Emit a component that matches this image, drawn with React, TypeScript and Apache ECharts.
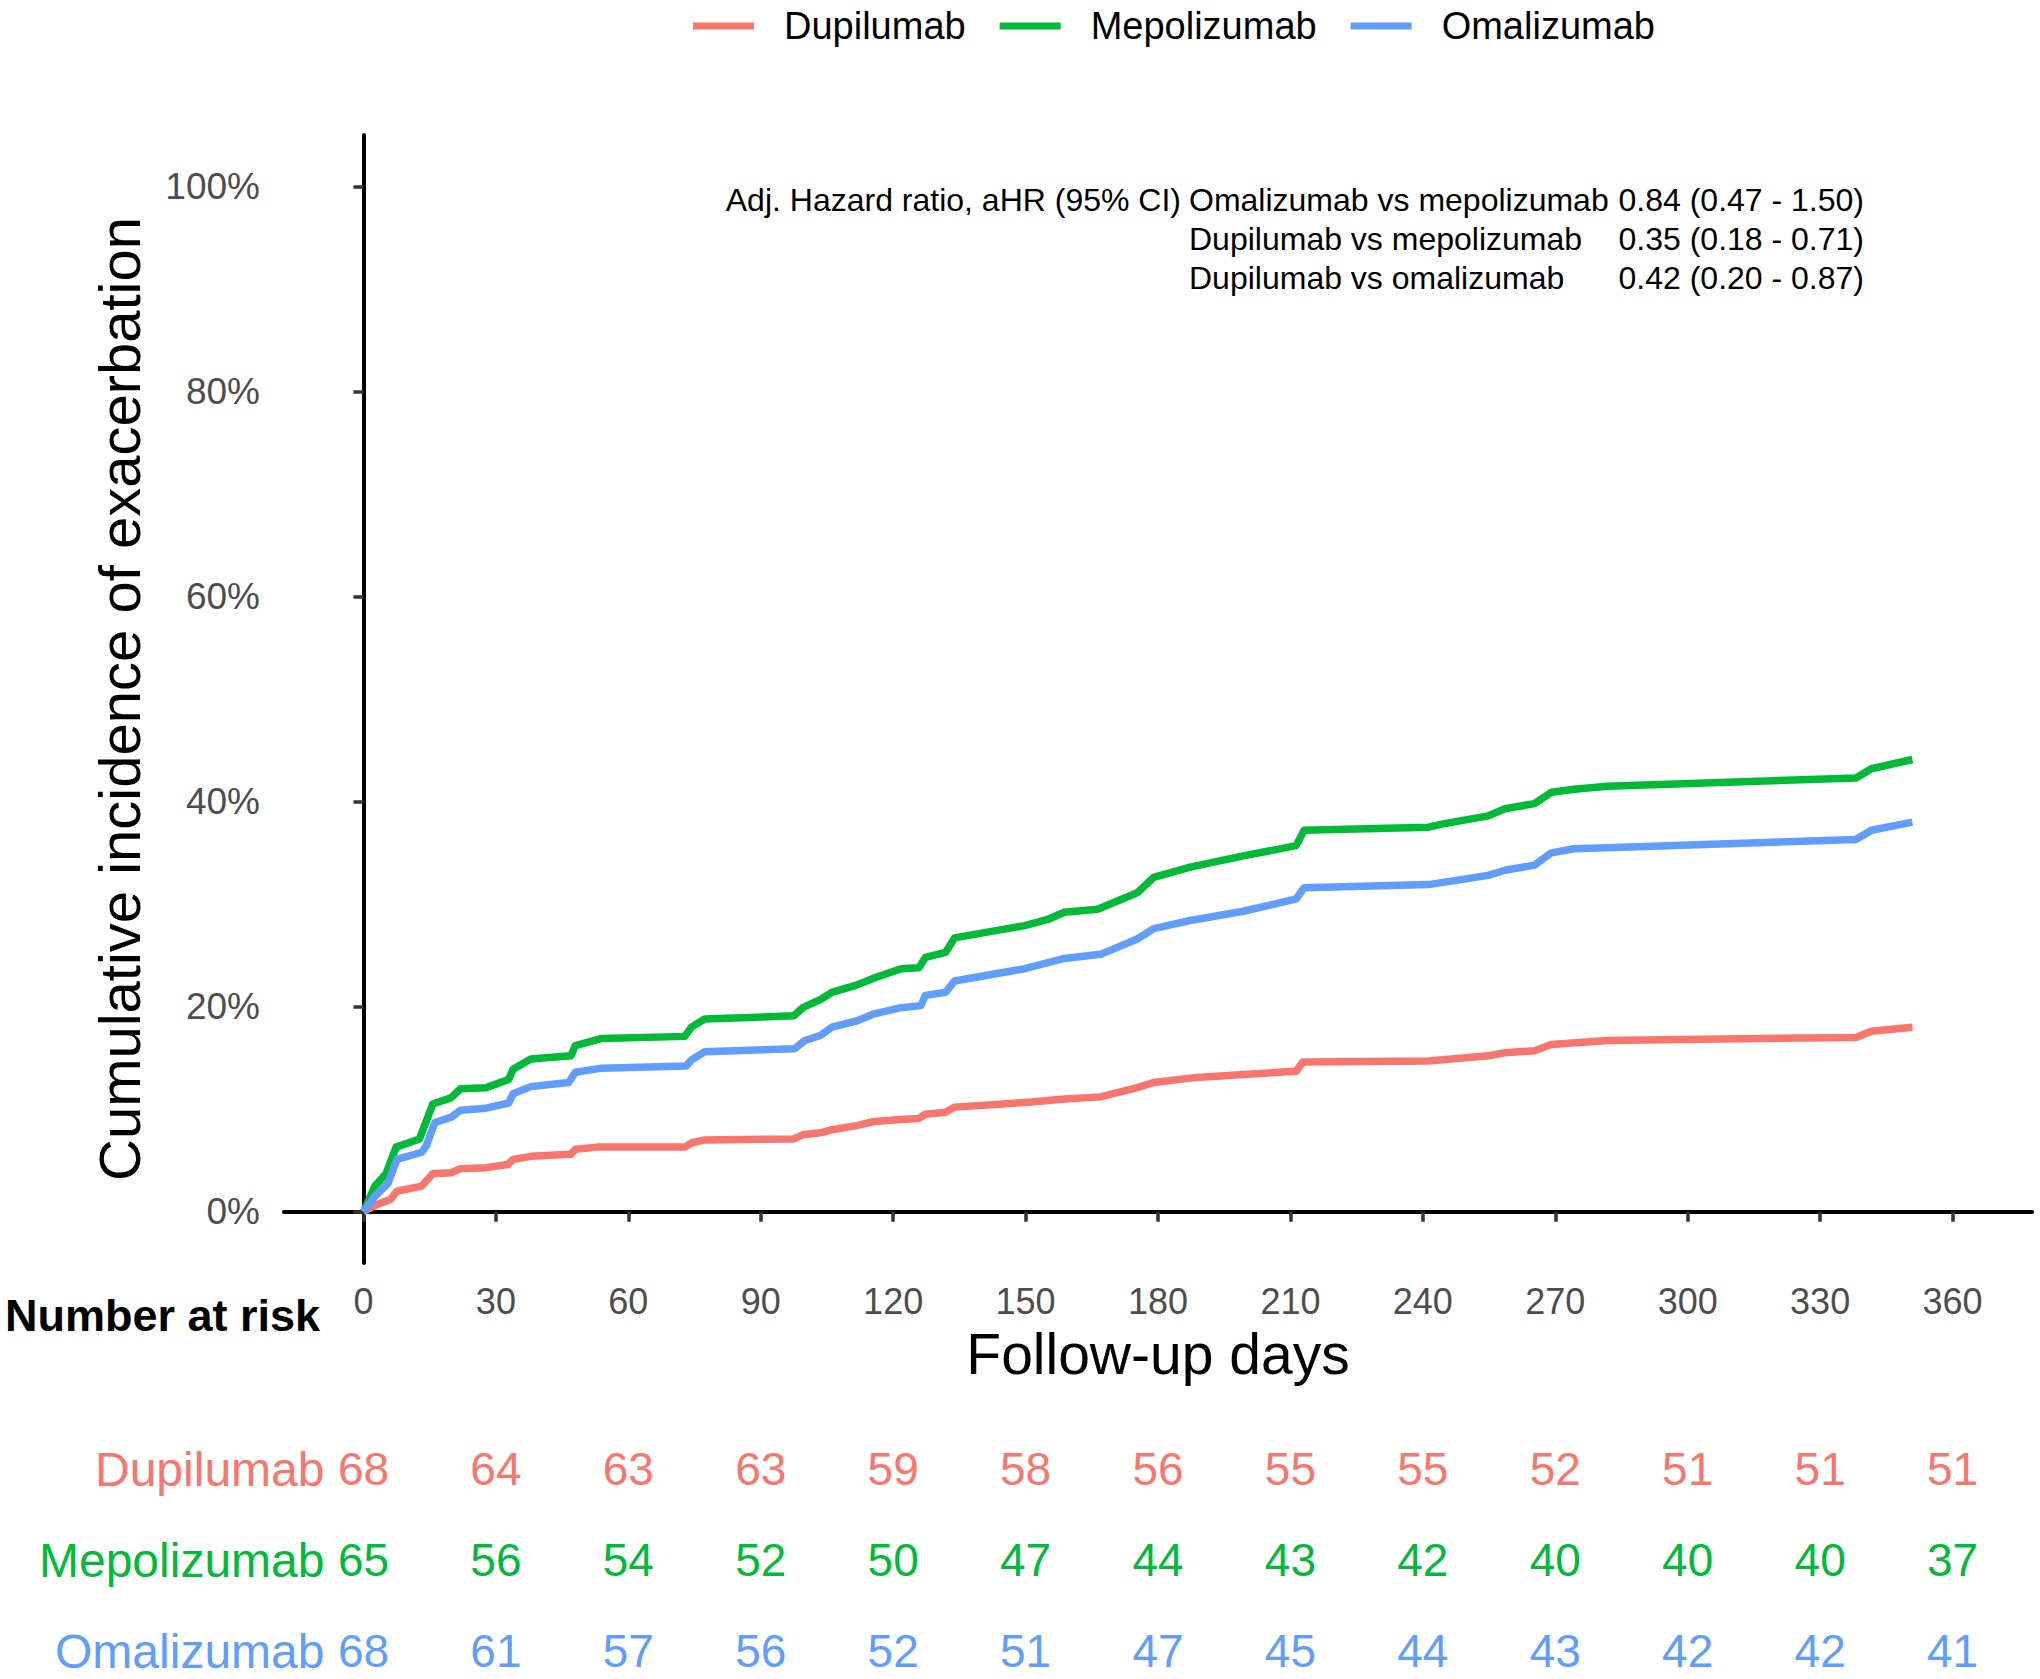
import React, { useEffect, useRef } from "react";
import * as echarts from "echarts";

// ---- Data ----
const DAY_TICKS = [0, 30, 60, 90, 120, 150, 180, 210, 240, 270, 300, 330, 360];
const PCT_TICKS = [0, 20, 40, 60, 80, 100];
const GROUPS = ["Dupilumab", "Mepolizumab", "Omalizumab"];
const COLORS = ["#F8766D", "#00BA38", "#619CFF"];

// [day, cumulative incidence %]
const dupilumabCurve: [number, number][] = [
  [0, 0], [3.1, 0.7], [6.1, 1.2], [7.6, 2], [13.2, 2.5], [15.7, 3.7], [19.8, 3.8], [22, 4.2],
  [27.8, 4.3], [32.7, 4.6], [33.9, 5.1], [37.9, 5.4], [47, 5.6], [48, 6.1], [53, 6.3], [72.8, 6.3],
  [74.3, 6.7], [77.3, 7], [97.5, 7.1], [99.5, 7.5], [103.6, 7.7], [106.1, 8], [111.7, 8.4],
  [115.7, 8.8], [121.8, 9], [125.8, 9.1], [127.3, 9.5], [131.9, 9.7], [133.9, 10.2], [151.3, 10.7],
  [158.8, 11], [167, 11.2], [175.3, 12.1], [179, 12.6], [188.8, 13.1], [211.3, 13.7], [212.8, 14.6],
  [241.3, 14.7], [254.8, 15.2], [258.6, 15.5], [265.3, 15.7], [269.1, 16.3], [281.8, 16.7],
  [338.1, 17], [341.6, 17.6], [350.9, 18],
];
const mepolizumabCurve: [number, number][] = [
  [0, 0], [2.6, 2.5], [5.1, 3.7], [7.4, 6.3], [12.7, 7.1], [15.7, 10.5], [19.8, 11.1], [22, 12],
  [27.8, 12.1], [32.9, 12.9], [33.9, 13.9], [37.9, 14.9], [47, 15.2], [48, 16.2], [54, 16.9],
  [72.8, 17.1], [74.3, 18], [77.3, 18.8], [97.5, 19.1], [99.5, 19.9], [103.6, 20.7], [106.1, 21.4],
  [111.7, 22.1], [115.7, 22.8], [121.8, 23.7], [125.8, 23.8], [127.3, 24.8], [131.9, 25.3],
  [133.9, 26.7], [149.8, 27.9], [155, 28.5], [158.8, 29.2], [166.3, 29.5], [175.3, 31.1],
  [179, 32.6], [187.3, 33.6], [199.3, 34.7], [211.3, 35.7], [213.1, 37.2], [241.3, 37.5],
  [244.3, 37.8], [254.8, 38.6], [258.6, 39.3], [265.3, 39.8], [269.1, 40.9], [274.3, 41.2],
  [281.8, 41.5], [338.1, 42.3], [341.6, 43.2], [350.9, 44.1],
];
const omalizumabCurve: [number, number][] = [
  [0, 0], [2.6, 1.5], [5.6, 2.8], [7.6, 5.1], [13.2, 5.8], [14.2, 6.4], [16.2, 8.7], [19.8, 9.2],
  [22, 9.9], [27.8, 10.1], [32.9, 10.6], [33.9, 11.5], [37.9, 12.2], [46.5, 12.6], [48, 13.6],
  [54, 14], [73.1, 14.2], [74.3, 14.8], [77.3, 15.6], [97.7, 15.9], [100, 16.7], [103.6, 17.2],
  [106.1, 18], [111.7, 18.6], [115.7, 19.3], [121.8, 19.9], [126.3, 20.1], [127.3, 21.1],
  [131.9, 21.4], [133.9, 22.5], [149.8, 23.7], [158.8, 24.7], [167, 25.1], [175.3, 26.6],
  [179, 27.6], [187.3, 28.4], [199.3, 29.3], [211.3, 30.5], [213.1, 31.6], [241.3, 31.9],
  [254.8, 32.8], [258.6, 33.3], [265.3, 33.8], [269.1, 35], [274.3, 35.4], [281.8, 35.5],
  [338.1, 36.3], [341.6, 37.2], [350.9, 38],
];

// Number at risk at DAY_TICKS
const riskDupilumab = [68, 64, 63, 63, 59, 58, 56, 55, 55, 52, 51, 51, 51];
const riskMepolizumab = [65, 56, 54, 52, 50, 47, 44, 43, 42, 40, 40, 40, 37];
const riskOmalizumab = [68, 61, 57, 56, 52, 51, 47, 45, 44, 43, 42, 42, 41];

const HR_HEADER = "Adj. Hazard ratio, aHR (95% CI)";
const HR_COMPARISONS = ["Omalizumab vs mepolizumab", "Dupilumab vs mepolizumab", "Dupilumab vs omalizumab"];
const HR_VALUES = ["0.84 (0.47 - 1.50)", "0.35 (0.18 - 0.71)", "0.42 (0.20 - 0.87)"];

const FONT = "'Liberation Sans', Arial, Helvetica, sans-serif";

export default function App() {
  const ref = useRef<HTMLDivElement>(null);

  useEffect(() => {
    document.body.style.margin = "0";
    const chart = echarts.init(ref.current!, null, { renderer: "svg" });

    const curves = [dupilumabCurve, mepolizumabCurve, omalizumabCurve];
    const risks = [riskDupilumab, riskMepolizumab, riskOmalizumab];

    const lineSeries = GROUPS.map((name, i) => ({
      name,
      type: "line",
      xAxisIndex: 0,
      yAxisIndex: 0,
      data: curves[i],
      symbol: "none",
      showSymbol: false,
      lineStyle: { width: 7.5, color: COLORS[i], cap: "butt", join: "round" },
      itemStyle: { color: COLORS[i] },
      z: 3 + i,
    }));

    const riskSeries = GROUPS.map((name, i) => ({
      name: "risk-" + name,
      type: "scatter",
      xAxisIndex: 1,
      yAxisIndex: 1,
      symbolSize: 0,
      silent: true,
      itemStyle: { opacity: 1, color: COLORS[i] },
      data: DAY_TICKS.map((d, j) => [d, i, risks[i][j]]),
      encode: { x: 0, y: 1 },
      label: {
        show: true,
        position: "inside",
        formatter: (p: any) => String(p.value[2]),
        color: COLORS[i],
        opacity: 1,
        fontSize: 46,
        fontFamily: FONT,
      },
    }));

    const nameSeries = {
      name: "risk-names",
      type: "scatter",
      xAxisIndex: 1,
      yAxisIndex: 1,
      symbolSize: 0,
      silent: true,
      itemStyle: { opacity: 1 },
      data: GROUPS.map((n, i) => ({ value: [0, i], name: n, label: { color: COLORS[i] } })),
      label: {
        show: true,
        position: "left",
        distance: 39,
        formatter: "{b}",
        opacity: 1,
        fontSize: 48,
        fontFamily: FONT,
      },
    };

    const hrGraphics: any[] = [
      {
        type: "text",
        x: 1181,
        y: 200,
        style: { text: HR_HEADER, fontSize: 32, fontFamily: FONT, fill: "#000", align: "right", verticalAlign: "middle" },
      },
    ];
    HR_COMPARISONS.forEach((t, i) => {
      hrGraphics.push({
        type: "text",
        x: 1189,
        y: 200 + i * 39,
        style: { text: t, fontSize: 32, fontFamily: FONT, fill: "#000", align: "left", verticalAlign: "middle" },
      });
      hrGraphics.push({
        type: "text",
        x: 1864,
        y: 200 + i * 39,
        style: { text: HR_VALUES[i], fontSize: 32, fontFamily: FONT, fill: "#000", align: "right", verticalAlign: "middle" },
      });
    });

    const option: any = {
      animation: false,
      backgroundColor: "#FFFFFF",
      textStyle: { fontFamily: FONT },
      legend: {
        data: GROUPS,
        left: 688,
        top: 2,
        icon: "rect",
        itemWidth: 61,
        itemHeight: 7,
        itemGap: 34,
        textStyle: { fontSize: 38, color: "#000", fontFamily: FONT, padding: [0, 0, 0, 25] },
        selectedMode: false,
      },
      grid: [
        { left: 284, top: 135, width: 1748, height: 1128 },
        { left: 284, top: 1469, width: 1748, height: 182 },
      ],
      xAxis: [
        {
          gridIndex: 0,
          type: "value",
          min: -18,
          max: 378,
          axisLine: { show: true, lineStyle: { color: "#000", width: 4 } },
          axisTick: { show: true, customValues: DAY_TICKS, length: 10, lineStyle: { color: "#333", width: 3.5 } },
          axisLabel: { customValues: DAY_TICKS, margin: 20, fontSize: 36, color: "#4D4D4D", fontFamily: FONT },
          splitLine: { show: false },
          name: "Follow-up days",
          nameLocation: "middle",
          nameGap: 62,
          nameTextStyle: { fontSize: 57, color: "#000", fontFamily: FONT },
        },
        { gridIndex: 1, type: "value", min: -18, max: 378, show: false },
      ],
      yAxis: [
        {
          gridIndex: 0,
          type: "value",
          min: -5,
          max: 105,
          axisLine: { show: true, lineStyle: { color: "#000", width: 4 } },
          axisTick: { show: true, customValues: PCT_TICKS, length: 10, lineStyle: { color: "#333", width: 3.5 } },
          axisLabel: {
            customValues: PCT_TICKS,
            formatter: (v: number) => v + "%",
            margin: 24,
            fontSize: 37,
            color: "#4D4D4D",
            fontFamily: FONT,
          },
          splitLine: { show: false },
          name: "Cumulative incidence of exacerbation",
          nameLocation: "middle",
          nameGap: 136,
          nameTextStyle: { fontSize: 58, color: "#000", fontFamily: FONT },
        },
        { gridIndex: 1, type: "value", min: 0, max: 2, inverse: true, show: false },
      ],
      series: [...lineSeries, ...riskSeries, nameSeries],
      graphic: [
        {
          type: "text",
          x: 5,
          y: 1315,
          style: {
            text: "Number at risk",
            fontSize: 45,
            fontWeight: "bold",
            fontFamily: FONT,
            fill: "#000",
            align: "left",
            verticalAlign: "middle",
          },
        },
        ...hrGraphics,
      ],
    };

    chart.setOption(option);
    return () => chart.dispose();
  }, []);

  return <div ref={ref} style={{ width: 2040, height: 1679 }} />;
}
